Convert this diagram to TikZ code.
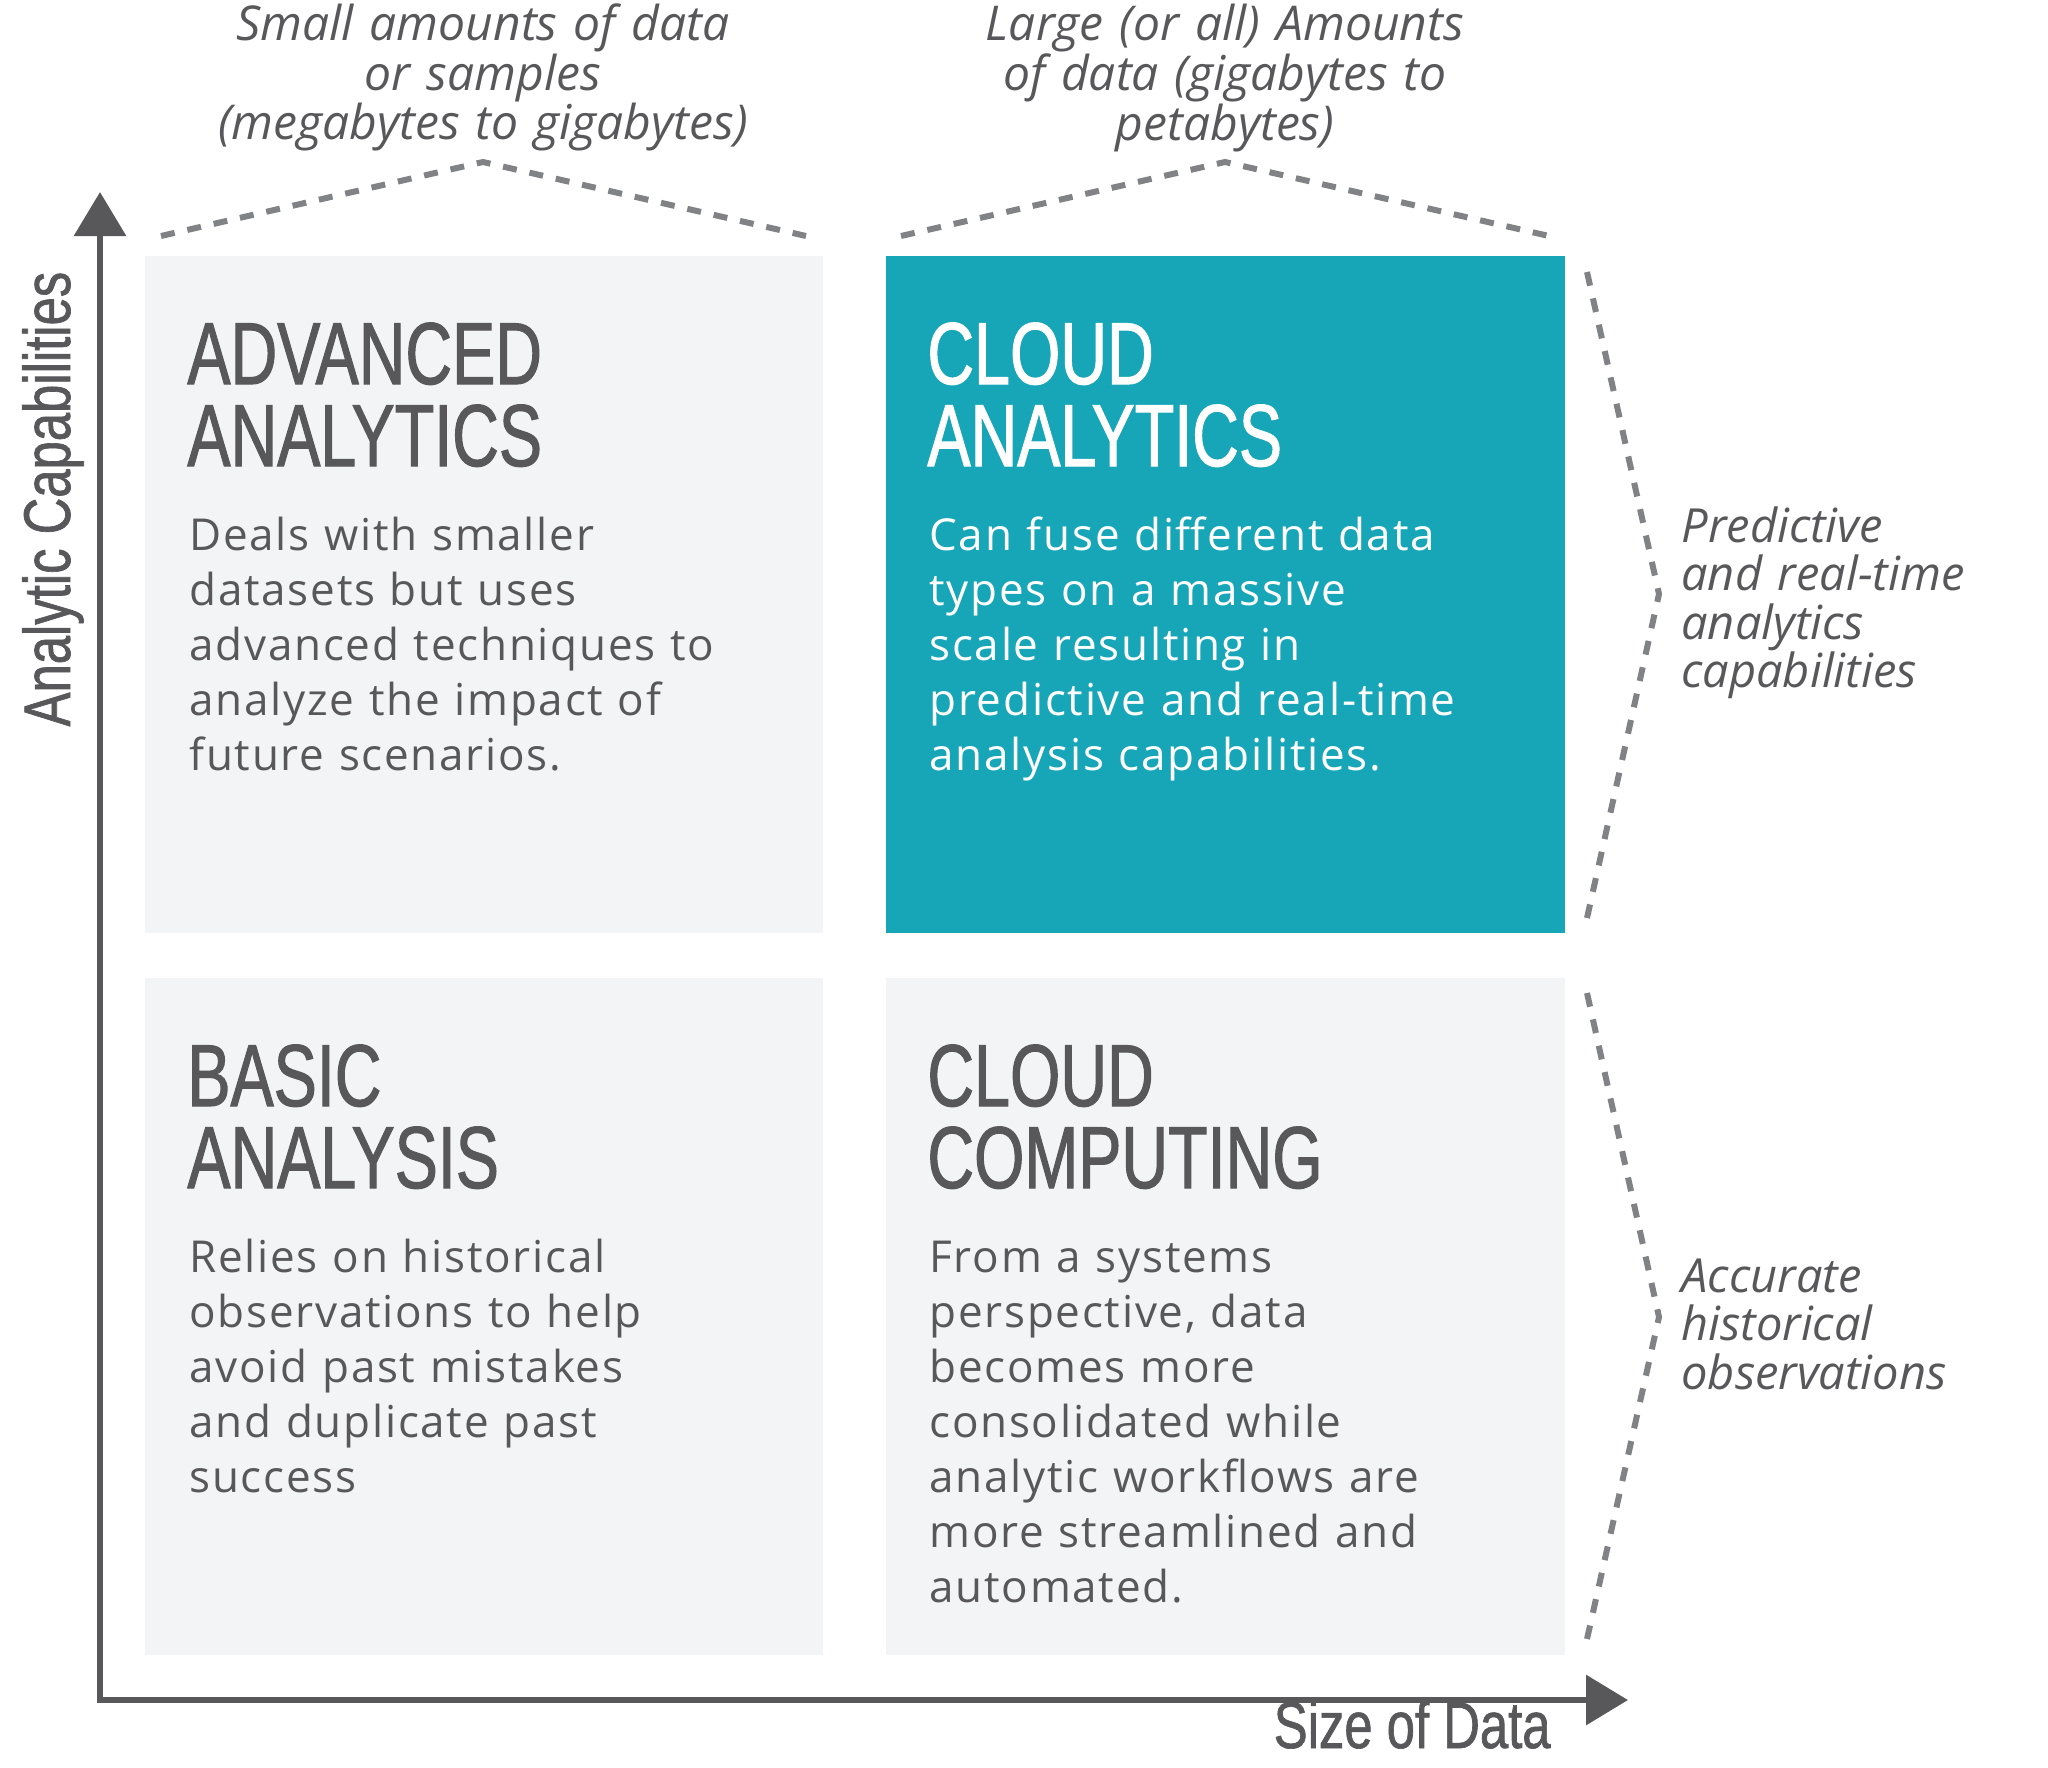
\documentclass[tikz,border=0pt]{standalone}
\usepackage{fontspec}
\usetikzlibrary{arrows.meta}
\setmainfont{Open Sans}
\newfontfamily\headfont[FakeStretch=0.735,FakeBold=1.2]{Liberation Sans}
\newfontfamily\axisfont[FakeStretch=0.77,FakeBold=1.0]{Liberation Sans}
\newfontfamily\bodyfont[LetterSpace=4]{Open Sans}
\newfontfamily\notefont{Open Sans}
\definecolor{ink}{HTML}{58585B}
\definecolor{dashgrey}{HTML}{808285}
\definecolor{panelgrey}{HTML}{F3F4F6}
\definecolor{tealfill}{HTML}{16A6B7}
\tikzset{
  panel/.style={fill=panelgrey},
  tealpanel/.style={fill=tealfill},
  heading/.style={anchor=base west, inner sep=0pt, text width=320pt, align=left,
    font=\headfont\fontsize{44}{41}\selectfont, text=ink},
  bodytext/.style={anchor=base west, inner sep=0pt, text width=330pt, align=left,
    font=\bodyfont\fontsize{22}{27.5}\selectfont, text=ink},
  topnote/.style={anchor=base, inner sep=0pt, text width=340pt, align=center,
    font=\notefont\itshape\fontsize{24}{23.75}\selectfont, text=ink},
  sidenote/.style={anchor=base west, inner sep=0pt, text width=200pt, align=left,
    font=\notefont\itshape\fontsize{23.5}{24.25}\selectfont, text=ink},
  axislabel/.style={inner sep=0pt, font=\axisfont\fontsize{33}{33}\selectfont, text=ink},
  axisline/.style={draw=ink, line width=3.2pt, line join=miter,
    {Triangle[length=22pt,width=25.5pt]}-{Triangle[length=21pt,width=24.5pt]}},
  dashline/.style={draw=dashgrey, line width=3pt, dash pattern=on 7pt off 6.5pt}
}
\begin{document}
\begin{tikzpicture}[x=0.5pt,y=-0.5pt]
\useasboundingbox[fill=white] (0,0) rectangle (2048,1767);

% panels
\fill[panel] (145,256) rectangle (823,933);
\fill[tealpanel] (886,256) rectangle (1565,933);
\fill[panel] (145,978) rectangle (823,1655);
\fill[panel] (886,978) rectangle (1565,1655);

% axes
\coordinate (origin) at (100,1700);
\coordinate (ytip) at (100,192);
\coordinate (xtip) at (1628,1700);
\draw[axisline] (ytip) -- (origin) -- (xtip);

\node[axislabel, rotate=90, anchor=base] (ylab) at (70,499) {Analytic Capabilities};
\node[axislabel, anchor=base east] (xlab) at (1551,1748) {Size of Data};

% dashed brackets
\draw[dashline] (161,236) -- (483,162) -- (806,236);
\draw[dashline] (901,236) -- (1225,162) -- (1549,236);
\draw[dashline] (1587,272) -- (1659,594) -- (1587,918);
\draw[dashline] (1587,993) -- (1659,1317) -- (1587,1639);

% top notes
\node[topnote] (nsmall) at (483,40) {Small amounts of data\\or samples\\(megabytes to gigabytes)};
\node[topnote] (nlarge) at (1225,40) {Large (or all) Amounts\\of data (gigabytes to\\petabytes)};

% side notes
\node[sidenote] (npred) at (1681,542) {Predictive\\and real-time\\analytics\\capabilities};
\node[sidenote] (nacc) at (1681,1292) {Accurate\\historical\\observations};

% panel texts
\node[heading] (hadv) at (187,384) {ADVANCED\\ANALYTICS};
\node[bodytext] (badv) at (189,550) {Deals with smaller\\datasets but uses\\advanced techniques to\\analyze the impact of\\future scenarios.};

\node[heading, text=white] (hcla) at (927,384) {CLOUD\\ANALYTICS};
\node[bodytext, text=white] (bcla) at (929,550) {Can fuse different data\\types on a massive\\scale resulting in\\predictive and real-time\\analysis capabilities.};

\node[heading] (hbas) at (187,1106) {BASIC\\ANALYSIS};
\node[bodytext] (bbas) at (189,1272) {Relies on historical\\observations to help\\avoid past mistakes\\and duplicate past\\success};

\node[heading] (hclc) at (927,1106) {CLOUD\\COMPUTING};
\node[bodytext] (bclc) at (929,1272) {From a systems\\perspective, data\\becomes more\\consolidated while\\analytic workflows are\\more streamlined and\\automated.};
\end{tikzpicture}
\end{document}
